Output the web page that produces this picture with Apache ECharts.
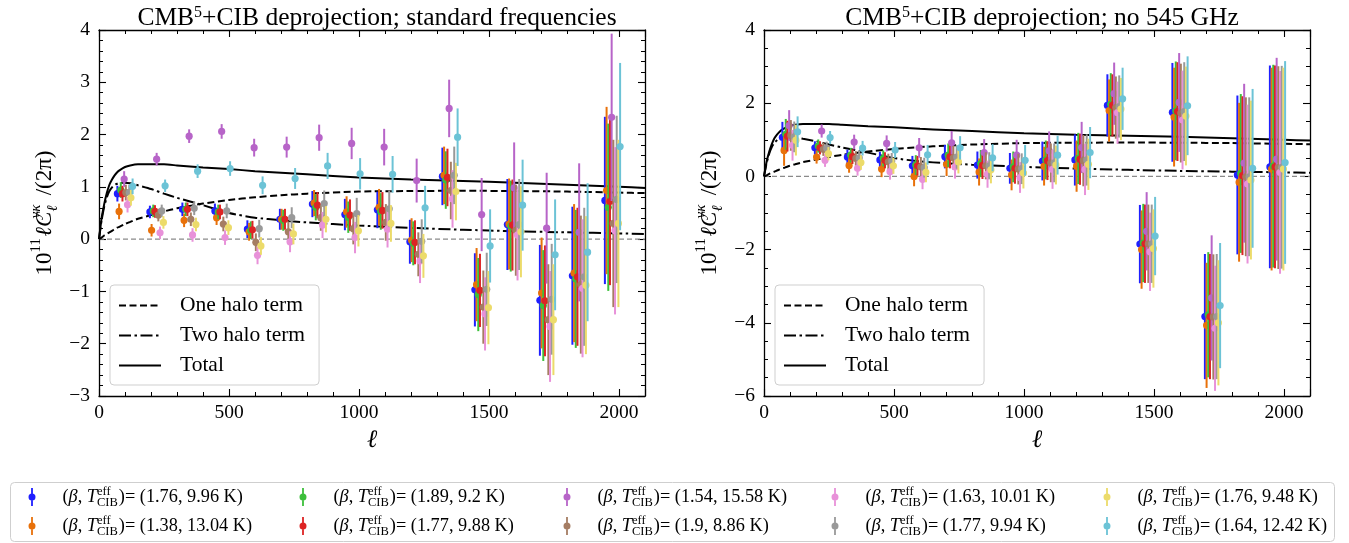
<!DOCTYPE html>
<html><head><meta charset="utf-8">
<script src="https://cdn.jsdelivr.net/npm/echarts@6/dist/echarts.min.js"></script>
<style>html,body{margin:0;padding:0;background:#fff}#c{width:1349px;height:543px}</style>
</head><body><div id="c"></div>
<script>
// ---------------- data ----------------
const binCenters = [100, 225, 350, 475, 600, 725, 850, 975, 1100, 1225, 1350, 1475, 1600, 1725, 1850, 1975];
const seriesShift = [-29.25, -22.75, -16.25, -9.75, -3.25, 3.25, 9.75, 16.25, 22.75, 29.25];
const seriesNames = ['(1.76, 9.96 K)', '(1.38, 13.04 K)', '(1.89, 9.2 K)', '(1.77, 9.88 K)', '(1.54, 15.58 K)',
                     '(1.9, 8.86 K)', '(1.63, 10.01 K)', '(1.77, 9.94 K)', '(1.76, 9.48 K)', '(1.64, 12.42 K)'];
const seriesColors = ['#1f1fff', '#e8710a', '#3cbf3b', '#dd2424', '#b764c8', '#a57d63', '#e891d9', '#999999', '#ecdb6a', '#6cc3d6'];

// left panel: standard frequencies
const leftBlue   = [0.87, 0.52, 0.57, 0.54, 0.19, 0.38, 0.67, 0.47, 0.56, -0.05, 1.20, -0.97, 0.28, -1.17, -0.70, 0.74];
const leftOrange = [0.53, 0.17, 0.36, 0.41, 0.14, 0.38, 0.69, 0.52, 0.61, -0.02, 1.22, -0.87, 0.29, -1.03, -0.65, 0.93];
const leftGreen  = [0.94, 0.54, 0.57, 0.52, 0.17, 0.36, 0.61, 0.42, 0.53, -0.08, 1.13, -1.06, 0.25, -1.27, -0.76, 0.61];
const leftRed    = [0.87, 0.53, 0.57, 0.52, 0.18, 0.38, 0.65, 0.46, 0.55, -0.06, 1.18, -0.98, 0.27, -1.18, -0.72, 0.72];
const leftPurple = [1.15, 1.53, 1.97, 2.06, 1.75, 1.76, 1.94, 1.83, 1.76, 1.12, 2.50, 0.47, 0.98, 0.21, 0.13, 2.33];
const leftBrown  = [0.89, 0.46, 0.38, 0.29, -0.06, 0.14, 0.41, 0.20, 0.32, -0.29, 0.93, -1.30, 0.17, -1.54, -0.87, 0.30];
const leftPink   = [0.66, 0.12, 0.08, 0.03, -0.31, -0.05, 0.27, 0.03, 0.19, -0.42, 0.77, -1.43, 0.08, -1.67, -0.94, 0.16];
const leftGray   = [0.89, 0.54, 0.59, 0.54, 0.20, 0.41, 0.68, 0.49, 0.58, -0.04, 1.22, -0.96, 0.28, -1.15, -0.72, 0.76];
const leftYellow = [0.79, 0.32, 0.28, 0.22, -0.13, 0.10, 0.38, 0.16, 0.30, -0.32, 0.91, -1.31, 0.14, -1.54, -0.88, 0.30];
const leftCyan   = [1.01, 1.02, 1.30, 1.35, 1.03, 1.16, 1.40, 1.25, 1.24, 0.60, 1.95, -0.13, 0.65, -0.30, -0.25, 1.77];
const leftErr    = [0.15, 0.12, 0.13, 0.14, 0.17, 0.20, 0.25, 0.30, 0.35, 0.42, 0.55, 0.70, 0.87, 1.06, 1.32, 1.60];

// right panel: no 545 GHz
const rightBlue   = [1.07, 0.78, 0.53, 0.45, 0.29, 0.54, 0.31, 0.22, 0.42, 0.45, 1.94, -1.85, 1.75, -3.83, 0.04, 0.26];
const rightOrange = [0.71, 0.53, 0.30, 0.20, 0.00, 0.33, 0.12, 0.04, 0.28, 0.28, 1.80, -2.00, 1.62, -4.07, -0.16, 0.20];
const rightGreen  = [1.15, 0.83, 0.58, 0.49, 0.31, 0.58, 0.35, 0.26, 0.45, 0.49, 1.97, -1.82, 1.79, -3.78, 0.08, 0.28];
const rightRed    = [1.10, 0.78, 0.54, 0.44, 0.29, 0.54, 0.30, 0.22, 0.43, 0.47, 1.94, -1.84, 1.77, -3.83, 0.02, 0.26];
const rightPurple = [1.39, 1.24, 0.94, 0.90, 0.78, 0.92, 0.65, 0.58, 0.70, 0.79, 2.26, -1.50, 2.02, -3.32, 0.36, 0.47];
const rightBrown  = [1.12, 0.74, 0.49, 0.40, 0.26, 0.51, 0.29, 0.20, 0.37, 0.43, 1.88, -1.84, 1.73, -3.84, -0.01, 0.24];
const rightPink   = [0.85, 0.44, 0.22, 0.13, -0.08, 0.26, 0.06, -0.03, 0.19, 0.19, 1.74, -2.06, 1.54, -4.15, -0.21, 0.11];
const rightGray   = [1.08, 0.77, 0.51, 0.42, 0.24, 0.53, 0.29, 0.21, 0.37, 0.45, 1.91, -1.84, 1.77, -3.83, -0.01, 0.25];
const rightYellow = [0.99, 0.62, 0.38, 0.29, 0.11, 0.40, 0.18, 0.09, 0.31, 0.33, 1.84, -1.97, 1.65, -4.00, -0.10, 0.20];
const rightCyan   = [1.22, 1.06, 0.77, 0.72, 0.59, 0.78, 0.51, 0.44, 0.58, 0.65, 2.12, -1.63, 1.93, -3.53, 0.22, 0.38];
const rightErr    = [0.42, 0.18, 0.20, 0.22, 0.27, 0.32, 0.37, 0.42, 0.53, 0.70, 0.85, 1.07, 1.35, 1.71, 2.17, 2.77];

// halo-model curves
const theoryEll = [0, 10, 20, 30, 40, 50, 60, 70, 80, 100, 120, 150, 200, 250, 300, 400, 500, 600, 700, 800, 1000, 1200, 1400, 1600, 1800, 2000, 2100];
const oneHalo   = [0, 0.03, 0.07, 0.10, 0.13, 0.16, 0.19, 0.22, 0.24, 0.29, 0.33, 0.39, 0.46, 0.53, 0.59, 0.68, 0.75, 0.80, 0.84, 0.87, 0.91, 0.92, 0.925, 0.92, 0.91, 0.89, 0.88];
const twoHalo   = [0, 0.36, 0.62, 0.80, 0.92, 0.99, 1.04, 1.06, 1.08, 1.08, 1.07, 1.03, 0.96, 0.87, 0.79, 0.65, 0.50, 0.41, 0.36, 0.32, 0.26, 0.215, 0.18, 0.15, 0.13, 0.11, 0.10];
const totalCurve= [0, 0.40, 0.67, 0.88, 1.04, 1.14, 1.22, 1.28, 1.32, 1.38, 1.41, 1.43, 1.43, 1.43, 1.41, 1.37, 1.34, 1.30, 1.27, 1.24, 1.18, 1.14, 1.11, 1.08, 1.04, 1.00, 0.98];

const xTicks = [0, 500, 1000, 1500, 2000];
const leftYRange = [-3, 4];
const rightYRange = [-6, 4];

const leftValues = [leftBlue, leftOrange, leftGreen, leftRed, leftPurple, leftBrown, leftPink, leftGray, leftYellow, leftCyan];
const rightValues = [rightBlue, rightOrange, rightGreen, rightRed, rightPurple, rightBrown, rightPink, rightGray, rightYellow, rightCyan];

// ---------------- styling helpers ----------------
const FONT = 'Liberation Serif';
const minus = v => (v < 0 ? '\u2212' + Math.abs(v) : String(v));

function xAxisPair(gridIndex) {
  const common = {
    type: 'value', gridIndex, min: 0, max: 2100, interval: 500,
    axisLine: { show: true, onZero: false, lineStyle: { color: '#000', width: 1.3 } },
    axisTick: { show: true, inside: true, length: 7, lineStyle: { color: '#000', width: 1.1 } },
    minorTick: { show: true, splitNumber: 5, length: 4, lineStyle: { color: '#000', width: 1 } },
    splitLine: { show: false }, minorSplitLine: { show: false }
  };
  return [
    Object.assign({}, common, {
      position: 'bottom',
      name: 'ℓ', nameLocation: 'middle', nameGap: 32,
      nameTextStyle: { fontFamily: FONT, fontSize: 25, fontStyle: 'italic', color: '#000' },
      axisLabel: { show: true, margin: 7, fontFamily: FONT, fontSize: 19.5, color: '#000',
        formatter: v => (xTicks.indexOf(v) >= 0 ? String(v) : '') }
    }),
    Object.assign({}, common, { position: 'top', axisLabel: { show: false } })
  ];
}
function yAxisPair(gridIndex, range, interval, minorSplit) {
  const common = {
    type: 'value', gridIndex, min: range[0], max: range[1], interval,
    axisLine: { show: true, onZero: false, lineStyle: { color: '#000', width: 1.3 } },
    axisTick: { show: true, inside: true, length: 7, lineStyle: { color: '#000', width: 1.1 } },
    minorTick: { show: true, splitNumber: minorSplit, length: 4, lineStyle: { color: '#000', width: 1 } },
    splitLine: { show: false }, minorSplitLine: { show: false }
  };
  const sup = { fontFamily: FONT, fontSize: 15, verticalAlign: 'top', lineHeight: 13, color: '#000' };
  return [
    Object.assign({}, common, {
      position: 'left',
      name: '10{sup|11}{sp| }{it|ℓC}{supw|yκ}{sub|ℓ}/(2π)', nameLocation: 'middle', nameGap: 38, nameRotate: 90,
      nameTextStyle: { fontFamily: FONT, fontSize: 23, color: '#000', lineHeight: 32,
        rich: {
          sup: sup,
          sp: { fontFamily: FONT, fontSize: 6, lineHeight: 32 },
          supw: Object.assign({}, sup, { fontStyle: 'italic', width: 0 }),
          it: { fontFamily: FONT, fontSize: 23, fontStyle: 'italic', color: '#000', lineHeight: 32 },
          sub: { fontFamily: FONT, fontSize: 15, fontStyle: 'italic', verticalAlign: 'bottom', lineHeight: 13, color: '#000', padding: [0, 10, 0, 0] }
        } },
      axisLabel: { show: true, margin: 9, fontFamily: FONT, fontSize: 19.5, color: '#000', formatter: minus }
    }),
    Object.assign({}, common, { position: 'right', axisLabel: { show: false } })
  ];
}

function errorSeries(panelValues, errs, xi, yi) {
  return panelValues.map((vals, s) => ({
    type: 'custom', name: seriesNames[s], xAxisIndex: xi, yAxisIndex: yi, z: 3,
    itemStyle: { color: seriesColors[s] },
    data: vals.map((v, b) => [binCenters[b] + seriesShift[s], v, errs[b]]),
    renderItem: (params, api) => {
      const x = api.value(0), y = api.value(1), e = api.value(2);
      const p = api.coord([x, y]);
      const lo = api.coord([x, y - e]);
      const hi = api.coord([x, y + e]);
      const c = api.visual('color');
      return { type: 'group', children: [
        { type: 'line', shape: { x1: p[0], y1: lo[1], x2: p[0], y2: hi[1] }, style: { stroke: c, lineWidth: 2 } },
        { type: 'circle', shape: { cx: p[0], cy: p[1], r: 3.6 }, style: { fill: c } }
      ] };
    }
  }));
}

function curveSeries(xi, yi) {
  const mk = (name, vals, type) => ({
    type: 'line', name, xAxisIndex: xi, yAxisIndex: yi, z: 2,
    showSymbol: false, symbol: 'none', smooth: 0.2,
    itemStyle: { color: '#000' },
    lineStyle: { color: '#000', width: 2, type },
    data: theoryEll.map((l, i) => [l, vals[i]])
  });
  return [
    { type: 'line', name: 'zero', xAxisIndex: xi, yAxisIndex: yi, z: 1, symbol: 'none',
      lineStyle: { color: '#8a8a8a', width: 1.2, type: [5, 3] }, data: [[0, 0], [2100, 0]] },
    mk('One halo term', oneHalo, [7, 3.5]),
    mk('Two halo term', twoHalo, [12, 3.5, 2.5, 3.5]),
    mk('Total', totalCurve, 'solid')
  ];
}

function curveLegend(left) {
  return {
    orient: 'vertical', left, top: 285, selectedMode: false,
    data: ['One halo term', 'Two halo term', 'Total'],
    itemWidth: 42, itemHeight: 14, itemGap: 7,
    itemStyle: { color: 'rgba(0,0,0,0)', borderWidth: 0, opacity: 0 },
    padding: [9, 14, 8, 8],
    backgroundColor: 'rgba(255,255,255,0.85)', borderColor: '#cfcfcf', borderWidth: 1, borderRadius: 4,
    textStyle: { fontFamily: FONT, fontSize: 21.5, color: '#000', lineHeight: 23, padding: [0, 0, 0, 14] }
  };
}

const legendMarkerX = [32, 303, 567, 835, 1107];
const legendIcon = 'path://M2.6,0H4.4V18H2.6Z M3.5,5.5A3.5,3.5 0 1 1 3.5,12.5A3.5,3.5 0 1 1 3.5,5.5Z';
function seriesLegend(col) {
  return {
    orient: 'vertical', left: legendMarkerX[col] - 3.5, top: 485, selectedMode: false,
    data: [seriesNames[col * 2], seriesNames[col * 2 + 1]],
    icon: legendIcon, itemWidth: 7, itemHeight: 18, itemGap: 5, padding: 0,
    formatter: n => '({it|β}, {it|T}{sup|eff}{sub|CIB})= ' + n,
    textStyle: { fontFamily: FONT, fontSize: 18.3, color: '#000', lineHeight: 24, padding: [0, 0, 0, 22],
      rich: {
        it: { fontFamily: FONT, fontSize: 18.3, fontStyle: 'italic', color: '#000', lineHeight: 24 },
        sup: { fontFamily: FONT, fontSize: 12.5, verticalAlign: 'top', lineHeight: 12, color: '#000', width: 0 },
        sub: { fontFamily: FONT, fontSize: 12.5, verticalAlign: 'bottom', lineHeight: 12, color: '#000', padding: [0, 1, 0, 0] }
      } }
  };
}

const titleStyle = { fontFamily: FONT, fontSize: 25.5, fontWeight: 'normal', color: '#000',
  rich: { sup: { fontFamily: FONT, fontSize: 16, verticalAlign: 'top', lineHeight: 12, color: '#000' } } };

const option = {
  animation: false,
  backgroundColor: '#fff',
  title: [
    { text: 'CMB{sup|5}+CIB deprojection; standard frequencies', left: 372, textAlign: 'center', top: 0, textStyle: titleStyle },
    { text: 'CMB{sup|5}+CIB deprojection; no 545 GHz', left: 1037, textAlign: 'center', top: 0, textStyle: titleStyle }
  ],
  grid: [
    { left: 99, top: 30, width: 546, height: 366 },
    { left: 764, top: 30, width: 546, height: 366 }
  ],
  xAxis: [...xAxisPair(0), ...xAxisPair(1)],
  yAxis: [...yAxisPair(0, leftYRange, 1, 5), ...yAxisPair(1, rightYRange, 2, 4)],
  graphic: [{ type: 'rect', left: 10, top: 482, z: 0,
    shape: { width: 1324, height: 59, r: 4 },
    style: { fill: 'rgba(255,255,255,0.85)', stroke: '#cfcfcf', lineWidth: 1 } }],
  legend: [curveLegend(110), curveLegend(775), 0, 1, 2, 3, 4].map((v, i) => (i < 2 ? v : seriesLegend(v))),
  series: [
    ...curveSeries(0, 0),
    ...errorSeries(leftValues, leftErr, 0, 0),
    ...curveSeries(2, 2),
    ...errorSeries(rightValues, rightErr, 2, 2)
  ]
};

const chart = echarts.init(document.getElementById('c'), null, { renderer: 'canvas' });
chart.setOption(option);
</script></body></html>
